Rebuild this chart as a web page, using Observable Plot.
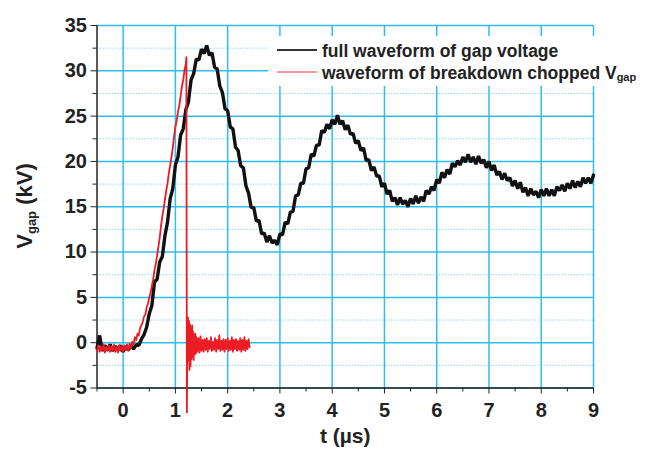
<!DOCTYPE html>
<html>
<head>
<meta charset="utf-8">
<script src="https://cdn.jsdelivr.net/npm/d3@7"></script>
<script src="https://cdn.jsdelivr.net/npm/@observablehq/plot@0.6"></script>
<style>
  html, body { margin: 0; padding: 0; background: #fff; }
  #chart svg { overflow: visible; display: block; }
</style>
</head>
<body>
<div id="chart"></div>
<script>
// ---- data ----
const fullT = [-0.5,-0.45,-0.4,-0.35,-0.3,-0.25,-0.2,-0.15,-0.1,-0.05,0,0.05,0.1,0.15,0.2,0.25,0.3,0.35,0.4,0.45,
  0.5,0.55,0.6,0.65,0.7,0.75,0.8,0.85,0.9,0.95,1.0,1.05,1.1,1.15,1.2,1.25,1.3,1.35,1.4,1.45,
  1.5,1.55,1.6,1.65,1.7,1.75,1.8,1.85,1.9,1.95,2.0,2.05,2.1,2.15,2.2,2.25,2.3,2.35,2.4,2.45,
  2.5,2.55,2.6,2.65,2.7,2.75,2.8,2.85,2.9,2.95,3.0,3.05,3.1,3.15,3.2,3.25,3.3,3.35,3.4,3.45,
  3.5,3.55,3.6,3.65,3.7,3.75,3.8,3.85,3.9,3.95,4.0,4.05,4.1,4.15,4.2,4.25,4.3,4.35,4.4,4.45,
  4.5,4.55,4.6,4.65,4.7,4.75,4.8,4.85,4.9,4.95,5.0,5.05,5.1,5.15,5.2,5.25,5.3,5.35,5.4,5.45,
  5.5,5.55,5.6,5.65,5.7,5.75,5.8,5.85,5.9,5.95,6.0,6.05,6.1,6.15,6.2,6.25,6.3,6.35,6.4,6.45,
  6.5,6.55,6.6,6.65,6.7,6.75,6.8,6.85,6.9,6.95,7.0,7.05,7.1,7.15,7.2,7.25,7.3,7.35,7.4,7.45,
  7.5,7.55,7.6,7.65,7.7,7.75,7.8,7.85,7.9,7.95,8.0,8.05,8.1,8.15,8.2,8.25,8.3,8.35,8.4,8.45,
  8.5,8.55,8.6,8.65,8.7,8.75,8.8,8.85,8.9,8.95,9.0];
const fullV = [-0.6,0.8,-0.9,-0.3,-0.8,-0.2,-0.9,-0.4,-0.8,-0.3,-1.0,-0.4,-0.8,-0.3,-0.7,-0.2,-0.3,0.4,0.9,1.7,
  3.2,4.1,6.7,7.0,8.9,9.5,11.8,13.3,15.9,17.0,19.6,20.5,22.9,23.6,25.7,26.6,29.0,29.7,31.3,31.2,
  32.4,31.9,32.8,31.7,32.0,30.4,30.2,28.3,27.6,25.8,25.6,23.8,23.6,21.6,21.2,19.5,19.3,17.3,16.5,14.9,
  14.9,13.4,13.5,12.0,12.1,11.1,11.8,11.0,11.3,10.8,12.0,11.9,13.3,13.1,14.4,14.5,16.2,16.3,17.6,17.6,
  19.2,19.3,20.8,20.6,21.8,21.8,23.4,23.2,24.1,23.6,24.6,24.1,25.1,24.1,24.5,23.5,24.0,23.0,23.1,22.0,
  22.3,21.2,21.5,20.1,20.2,19.0,19.4,18.4,18.4,17.2,17.6,16.4,16.8,15.6,16.0,15.2,16.0,15.3,15.7,15.0,
  15.9,15.3,16.2,15.4,16.1,15.6,16.8,16.4,17.2,16.8,18.0,17.6,18.8,18.2,19.1,18.6,19.8,19.4,20.1,19.6,
  20.5,19.9,20.8,19.9,20.5,19.7,20.6,19.8,20.2,19.3,20.0,19.0,19.6,18.5,18.9,18.0,18.7,17.9,18.2,17.3,
  17.9,17.0,17.7,16.6,17.1,16.2,17.0,16.3,16.7,16.0,16.9,16.2,17.0,16.2,16.9,16.2,17.2,16.8,17.4,16.7,
  17.6,17.0,17.9,17.1,17.8,17.2,18.2,17.6,18.2,17.6,18.5];

const choppedT = [-0.5,-0.475,-0.45,-0.425,-0.4,-0.375,-0.35,-0.325,-0.3,-0.275,-0.25,-0.225,-0.2,-0.175,-0.15,-0.125,
  -0.1,-0.075,-0.05,-0.025,0,0.025,0.05,0.075,0.1,0.125,0.15,0.175,0.2,0.225,0.25,
  0.275,0.3,0.325,0.35,0.375,0.4,0.425,0.45,0.475,0.5,0.525,0.55,0.575,0.6,0.625,0.65,0.675,0.7,0.725,0.75,
  0.775,0.8,0.825,0.85,0.875,0.9,0.925,0.95,0.975,1.0,1.025,1.05,1.075,1.1,1.125,1.15,1.175,1.2,1.21,1.22,
  1.23,1.24,1.25,1.26,1.27,1.28,1.29,1.30,1.31,1.32,1.33,1.34,1.35,1.36,1.37,1.38,1.39,1.40,
  1.42,1.44,1.46,1.48,1.50,1.52,1.54,1.56,1.58,1.60,1.62,1.64,1.66,1.68,1.70,1.72,1.74,1.76,1.78,1.80,
  1.82,1.84,1.86,1.88,1.90,1.92,1.94,1.96,1.98,2.00,2.02,2.04,2.06,2.08,2.10,2.12,2.14,2.16,2.18,2.20,
  2.22,2.24,2.26,2.28,2.30,2.32,2.34,2.36,2.38,2.40,2.42];
const choppedV = [-0.9,-0.3,-1.0,-0.4,-0.9,-0.2,-1.1,-0.5,-0.9,-0.3,-1.0,-0.4,-0.9,-0.2,-1.0,-0.5,
  -1.1,-0.3,-0.9,-0.4,-1.0,-0.3,-0.8,-0.2,-0.9,-0.1,-0.6,0.1,-0.2,0.6,0.3,
  1.0,0.8,1.6,1.9,2.3,2.9,3.1,3.9,4.3,5.0,5.5,6.3,7.0,8.0,8.7,9.6,10.6,11.6,12.9,14.0,
  14.8,15.8,16.8,17.6,18.7,19.6,20.5,21.5,22.8,23.8,24.5,25.5,26.2,27.2,28.3,29.0,30.1,30.8,31.5,-7.7,
  1.5,2.8,-2.0,2.4,-3.0,2.0,-2.6,1.6,-1.8,1.9,-1.5,1.2,-1.9,0.8,-1.3,1.0,-1.2,0.6,
  -1.0,0.5,-1.1,0.7,-0.9,0.3,-1.0,0.4,-0.8,0.5,-1.0,0.2,-0.7,0.6,-0.9,0.1,-0.8,0.5,-1.0,0.3,
  -0.7,0.8,-0.9,0.2,-0.8,0.4,-1.0,0.3,-0.7,0.5,-0.9,0.2,-0.8,0.6,-1.0,0.3,-0.7,0.4,-0.9,0.2,
  -0.8,0.5,-1.0,0.3,-0.8,0.6,-0.9,0.2,-0.7,0.4,-0.5];

const xTicks = [0,1,2,3,4,5,6,7,8,9];
const xMinor = [-0.5,0.5,1.5,2.5,3.5,4.5,5.5,6.5,7.5,8.5];
const yTicks = [-5,0,5,10,15,20,25,30,35];
const yMinor = [-2.5,2.5,7.5,12.5,17.5,22.5,27.5,32.5];
const legendLabels = ["full waveform of gap voltage", "waveform of breakdown chopped V"];
const seriesColors = ["#111111", "#ec1c24"];

// ---- tables built from the arrays ----
const full = fullT.map((t, i) => ({t, v: fullV[i]}));
const chopped = choppedT.map((t, i) => ({t, v: choppedV[i]}));

const FONT = "'Liberation Sans', Arial, Helvetica, sans-serif";
const GRID = "#2fbdf1";

const plot = Plot.plot({
  width: 646,
  height: 449,
  marginLeft: 96.5,
  marginRight: 53,
  marginTop: 25,
  marginBottom: 61.5,
  style: {fontFamily: FONT, fontWeight: "bold", color: "#222", background: "#fff", overflow: "visible"},
  x: {domain: [-0.5, 9]},
  y: {domain: [-5, 35]},
  marks: [
    Plot.gridY(yMinor, {stroke: "#8ed7f5", strokeOpacity: 1, strokeWidth: 1, strokeDasharray: "1.5,1.5"}),
    Plot.gridX(xTicks, {stroke: GRID, strokeOpacity: 1, strokeWidth: 1.5}),
    Plot.gridY(yTicks, {stroke: GRID, strokeOpacity: 1, strokeWidth: 1.5}),
    Plot.axisX(xTicks, {tickSize: 6, tickPadding: 9, fontSize: 20, fontWeight: "bold",
      tickFormat: d => String(d), label: "t (µs)", labelAnchor: "center", labelArrow: "none", labelOffset: 55}),
    Plot.axisX(xMinor, {tickSize: 4, text: null, label: null}),
    Plot.axisY(yTicks, {tickSize: 6, tickPadding: 4, fontSize: 20, fontWeight: "bold",
      tickFormat: d => String(d), label: null}),
    Plot.axisY(yMinor, {tickSize: 4, text: null, label: null}),
    Plot.ruleX([-0.5], {stroke: "#222", strokeWidth: 1.5}),
    Plot.ruleY([-5], {stroke: "#222", strokeWidth: 1.5}),
    Plot.line(full, {x: "t", y: "v", stroke: seriesColors[0], strokeWidth: 3.4, strokeLinejoin: "miter"}),
    Plot.line(chopped, {x: "t", y: "v", stroke: seriesColors[1], strokeWidth: 1.8, strokeLinejoin: "round"})
  ]
});

const svg = d3.select(plot);
svg.selectAll("[aria-label='x-axis label'] text").attr("font-size", 21);

// legend (white box hides the grid behind it)
const lg = svg.append("g").attr("text-anchor", "start");
lg.append("rect").attr("x", 268).attr("y", 36).attr("width", 378).attr("height", 50)
  .attr("fill", "#ffffff").attr("stroke", "none");
const rows = [{y: 50, color: "#333", op: 1}, {y: 72, color: seriesColors[1], op: 0.45}];
rows.forEach((r, i) => {
  lg.append("line").attr("x1", 277).attr("x2", 317).attr("y1", r.y).attr("y2", r.y)
    .attr("stroke", r.color).attr("stroke-opacity", r.op).attr("stroke-width", 2);
  const t = lg.append("text").attr("x", 322).attr("y", r.y + 6.5).attr("text-anchor", "start")
    .attr("font-family", FONT).attr("font-weight", "bold").attr("font-size", 17.5).attr("fill", "#222");
  t.append("tspan").text(legendLabels[i]);
  if (i === 1) t.append("tspan").attr("font-size", 11).attr("dy", 2).text("gap");
});

// y-axis title with subscript
const yt = svg.append("text")
  .attr("transform", "translate(32,206) rotate(-90)")
  .attr("text-anchor", "middle")
  .attr("font-family", FONT).attr("font-weight", "bold").attr("font-size", 22).attr("fill", "#222");
yt.append("tspan").text("V");
yt.append("tspan").attr("font-size", 13).attr("dy", 4).text("gap");
yt.append("tspan").attr("dy", -4).text(" (kV)");

document.getElementById("chart").appendChild(plot);
</script>
</body>
</html>
